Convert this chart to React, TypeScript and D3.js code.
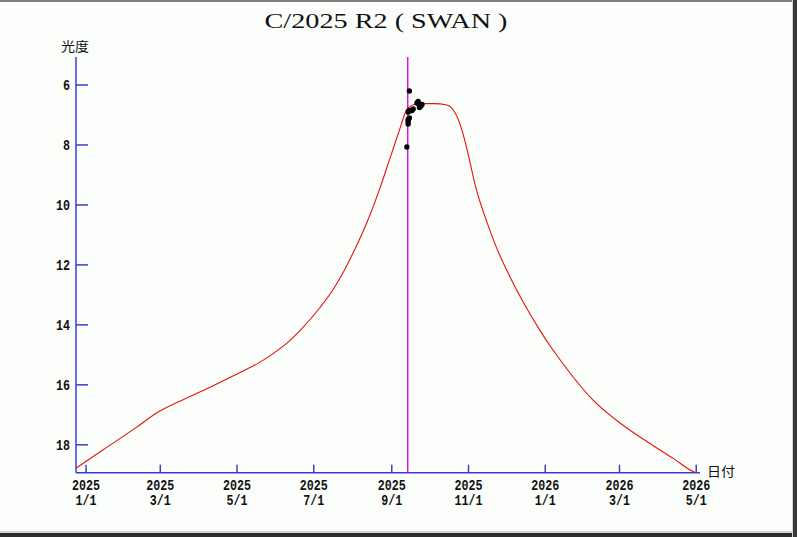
import React from "react";
import * as d3 from "d3";

const TITLE = "C/2025 R2 ( SWAN )";
const Y_LABEL = "光度";
const X_LABEL = "日付";

const curveDates = [
  "2024-12-24", "2025-01-14", "2025-02-10", "2025-02-26", "2025-03-22", "2025-04-12",
  "2025-05-01", "2025-05-19", "2025-06-02", "2025-06-11", "2025-06-20", "2025-07-06",
  "2025-07-17", "2025-07-25", "2025-08-01", "2025-08-09", "2025-08-15", "2025-08-23",
  "2025-08-31", "2025-09-08", "2025-09-11", "2025-09-13", "2025-09-17", "2025-09-22",
  "2025-09-26", "2025-10-05", "2025-10-14", "2025-10-18", "2025-10-25", "2025-10-29",
  "2025-11-02", "2025-11-07", "2025-11-15", "2025-11-23", "2025-12-04", "2025-12-15",
  "2025-12-28", "2026-01-07", "2026-01-23", "2026-02-08", "2026-03-02", "2026-03-23",
  "2026-04-13", "2026-04-29", "2026-05-01",
];
const curveMags = [
  18.78, 18.18, 17.42, 16.94, 16.44, 16.03,
  15.64, 15.25, 14.86, 14.56, 14.19, 13.42,
  12.78, 12.2, 11.62, 10.9, 10.3, 9.39,
  8.39, 7.39, 7.0, 6.8, 6.68, 6.62,
  6.62, 6.62, 6.66, 6.74, 7.28, 7.84,
  8.55, 9.45, 10.5, 11.4, 12.4, 13.28,
  14.2, 14.83, 15.73, 16.51, 17.29, 17.9,
  18.46, 18.9, 18.93,
];

const obsDates = [
  "2025-09-13", "2025-09-14", "2025-09-14", "2025-09-14", "2025-09-14", "2025-09-15",
  "2025-09-15", "2025-09-15", "2025-09-16", "2025-09-17", "2025-09-18", "2025-09-21",
  "2025-09-22", "2025-09-22", "2025-09-23", "2025-09-24", "2025-09-25",
];
const obsMags = [
  8.07, 6.9, 7.15, 7.22, 7.3, 6.2,
  6.85, 7.1, 6.85, 6.85, 6.8, 6.6,
  6.55, 6.62, 6.75, 6.7, 6.65,
];

const currentDate = "2025-09-13T16:00";

const xTickDates = [
  "2025-01-01", "2025-03-01", "2025-05-01", "2025-07-01", "2025-09-01",
  "2025-11-01", "2026-01-01", "2026-03-01", "2026-05-01",
];
const xTickYears = ["2025", "2025", "2025", "2025", "2025", "2025", "2026", "2026", "2026"];
const xTickDays = ["1/1", "3/1", "5/1", "7/1", "9/1", "11/1", "1/1", "3/1", "5/1"];
const yTicks = [6, 8, 10, 12, 14, 16, 18];

const xDomain = ["2024-12-24", "2026-05-04"];
const yDomain = [5.1, 18.93];

const parse = (s: string) => new Date(s.length > 10 ? s + ":00Z" : s + "T00:00:00Z");

export default function App() {
  const W = 797;
  const H = 537;
  const left = 76;
  const right = 700;
  const top = 58;
  const bottom = 472.7;

  const x = d3.scaleUtc().domain(xDomain.map(parse)).range([left, right]);
  const y = d3.scaleLinear().domain(yDomain).range([top, bottom]);

  const curve = curveDates.map((d, i) => ({ d: parse(d), m: curveMags[i] }));
  const obs = obsDates.map((d, i) => ({ d: parse(d), m: obsMags[i] }));

  const line = d3
    .line<{ d: Date; m: number }>()
    .curve(d3.curveMonotoneX)
    .x((p) => x(p.d))
    .y((p) => y(p.m));

  const axisColor = "#3c3cd4";
  const monoFont = "'Liberation Mono', 'DejaVu Sans Mono', monospace";
  const cx = x(parse(currentDate));

  return (
    <svg
      width={W}
      height={H}
      style={{ position: "absolute", left: 0, top: 0, display: "block" }}
    >
      <rect x={0} y={0} width={W} height={H} fill="#fcfefc" />
      {/* frame */}
      <rect x={0} y={0} width={W} height={2} fill="#808080" />
      <rect x={0} y={531} width={W} height={2} fill="#d4d4d4" />
      <rect x={0} y={533} width={W} height={4} fill="#2e2e2e" />
      <rect x={792} y={0} width={1} height={H} fill="#d4d4d4" />
      <rect x={793} y={0} width={4} height={H} fill="#3a3a3a" />

      {/* title */}
      <text
        x={386}
        y={28}
        textAnchor="middle"
        fontFamily="'Liberation Serif', 'Times New Roman', serif"
        fontSize={22}
        textLength={243}
        lengthAdjust="spacingAndGlyphs"
        fill="#111"
      >
        {TITLE}
      </text>

      {/* y axis */}
      <line x1={left} x2={left} y1={top - 1} y2={bottom} stroke={axisColor} strokeWidth={1.5} />
      {yTicks.map((t) => (
        <g key={t}>
          <line x1={left} x2={left + 12} y1={y(t)} y2={y(t)} stroke={axisColor} strokeWidth={1.5} />
          <text
            x={70}
            y={y(t) + 5}
            textAnchor="end"
            fontFamily={monoFont}
            fontWeight="bold"
            fontSize={14}
            textLength={String(t).length * 7}
            lengthAdjust="spacingAndGlyphs"
            fill="#111"
          >
            {t}
          </text>
        </g>
      ))}
      <text
        x={75}
        y={51}
        textAnchor="middle"
        fontFamily="'Noto Sans CJK JP', sans-serif"
        fontSize={13}
        textLength={28}
        lengthAdjust="spacingAndGlyphs"
        fill="#111"
      >
        {Y_LABEL}
      </text>

      {/* x axis */}
      <line x1={left} x2={right} y1={bottom} y2={bottom} stroke={axisColor} strokeWidth={1.5} />
      {xTickDates.map((d, i) => {
        const tx = x(parse(d));
        return (
          <g key={d}>
            <line x1={tx} x2={tx} y1={bottom} y2={bottom - 8} stroke={axisColor} strokeWidth={1.5} />
            <text
              x={tx}
              y={489.5}
              textAnchor="middle"
              fontFamily={monoFont}
              fontWeight="bold"
              fontSize={14}
              textLength={xTickYears[i].length * 7}
              lengthAdjust="spacingAndGlyphs"
              fill="#111"
            >
              {xTickYears[i]}
            </text>
            <text
              x={tx}
              y={505}
              textAnchor="middle"
              fontFamily={monoFont}
              fontWeight="bold"
              fontSize={14}
              textLength={xTickDays[i].length * 7}
              lengthAdjust="spacingAndGlyphs"
              fill="#111"
            >
              {xTickDays[i]}
            </text>
          </g>
        );
      })}
      <text
        x={707}
        y={476}
        fontFamily="'Noto Sans CJK JP', sans-serif"
        fontSize={13}
        textLength={28}
        lengthAdjust="spacingAndGlyphs"
        fill="#111"
      >
        {X_LABEL}
      </text>

      {/* current date line */}
      <line x1={cx} x2={cx} y1={top - 1} y2={bottom} stroke="#e010e0" strokeWidth={1.5} />

      {/* predicted light curve */}
      <path d={line(curve) ?? ""} fill="none" stroke="#e81010" strokeWidth={1.1} />

      {/* observations */}
      {obs.map((o, i) => (
        <circle key={i} cx={x(o.d)} cy={y(o.m)} r={2.7} fill="#000" />
      ))}
    </svg>
  );
}
